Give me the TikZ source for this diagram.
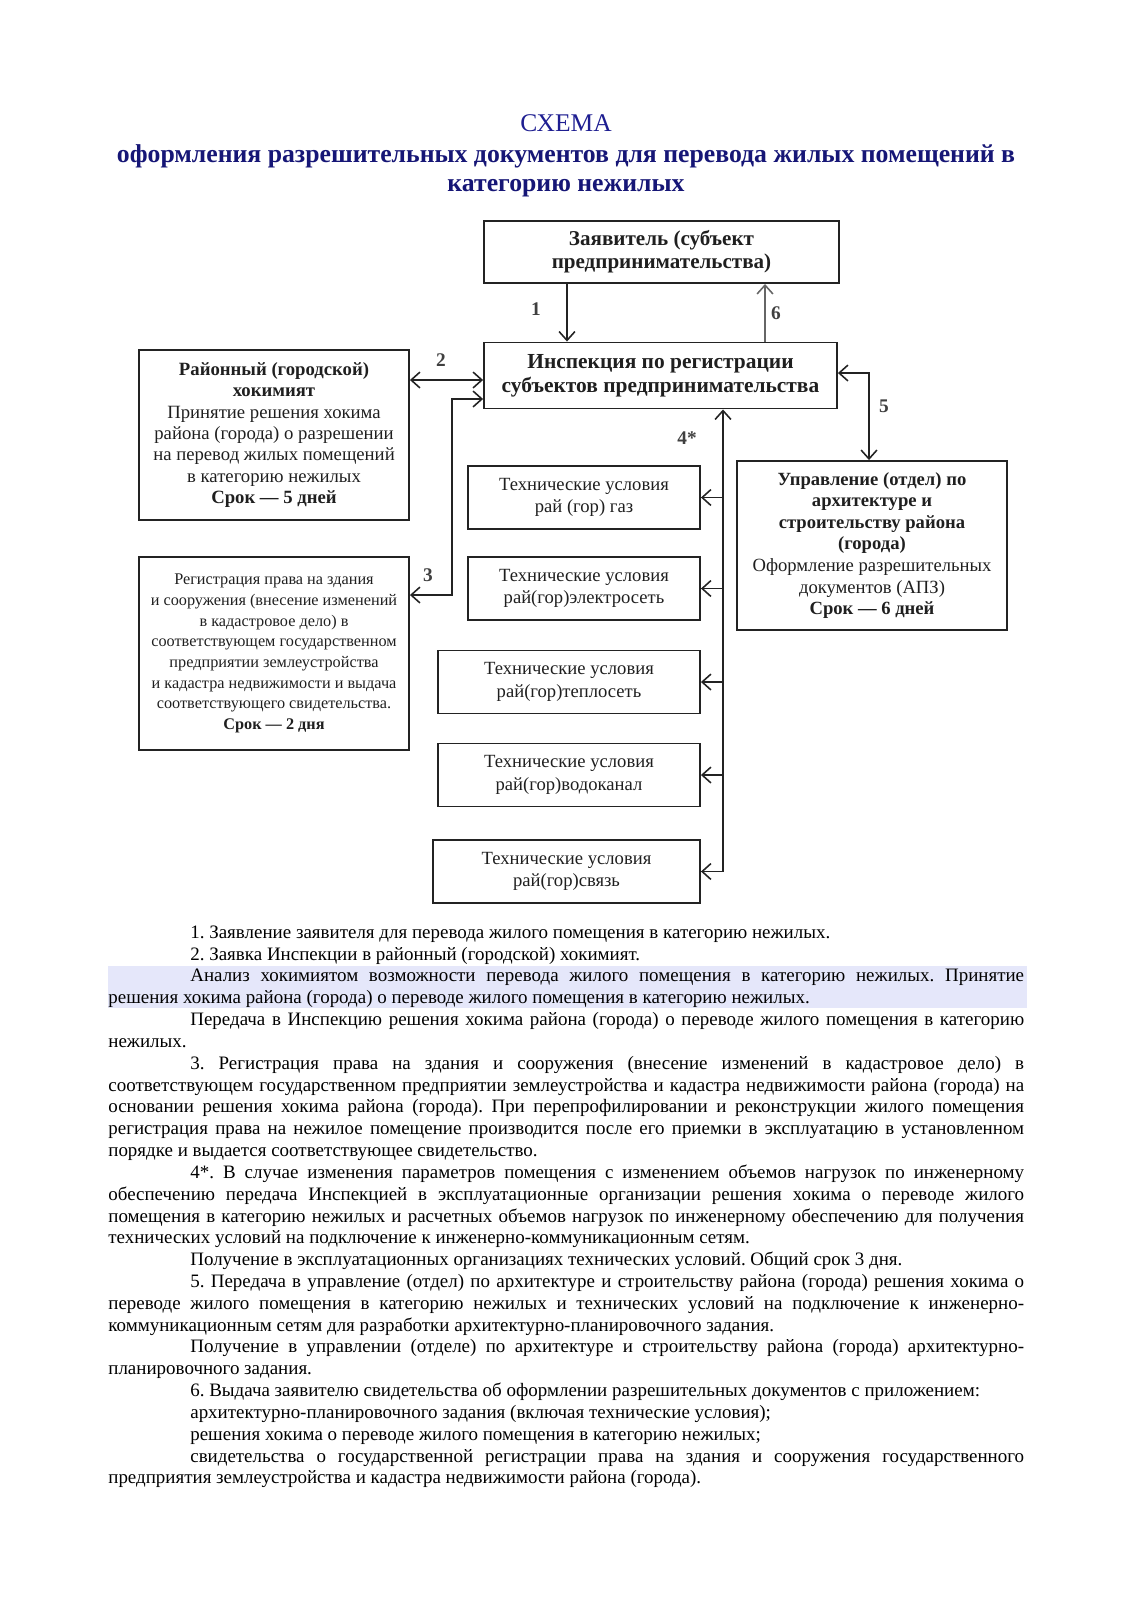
\documentclass[tikz,border=0pt]{standalone}
\usepackage{fontspec}
\setmainfont{Liberation Serif}
\newfontfamily\bodyfont{Liberation Serif}
\usepackage{xcolor}
\definecolor{sinij}{RGB}{22,22,118}
\definecolor{sinijS}{RGB}{30,30,145}
\definecolor{podsvetka}{RGB}{229,231,250}
\definecolor{ramka}{RGB}{35,35,35}
\usetikzlibrary{arrows.meta,positioning,calc}
\newcommand{\abz}{\par\noindent\hspace*{1.64cm}}

\begin{document}
\begin{tikzpicture}[x=0.02cm, y=-0.02cm,
  blok/.style={draw=ramka, line width=1.1pt, align=center, inner sep=2pt, text=black!88},
  strel/.style={-{Straight Barb[length=5pt,width=9pt]}, line width=0.9pt, draw=ramka},
  dvustrel/.style={{Straight Barb[length=5pt,width=9pt]}-{Straight Barb[length=5pt,width=9pt]}, line width=0.9pt, draw=ramka},
  nomer/.style={font=\bfseries\fontsize{11}{12}\selectfont, text=black!75}]
  \useasboundingbox (0,0) rectangle (1132,1600);

  % zagolovok
  \node[anchor=base, text=sinijS, font=\fontsize{14.5}{16}\selectfont] (shema) at (566,131) {СХЕМА};
  \node[anchor=base, align=center, text=sinij, font=\bfseries\fontsize{14.65}{16}\selectfont] (nazvanie) at (566,191)
    {оформления разрешительных документов для перевода жилых помещений в\\категорию нежилых};

  % bloki
  \node[blok, minimum width=7.1cm, minimum height=1.24cm, font=\bfseries\fontsize{12}{13.3}\selectfont]
    (zayavitel) at (661.5,252) {Заявитель (субъект\\предпринимательства)};
  \node[blok, minimum width=7.06cm, minimum height=1.32cm, font=\bfseries\fontsize{12.2}{13.9}\selectfont]
    (inspekciya) at (660.5,375.5) {Инспекция по регистрации\\субъектов предпринимательства};
  \node[blok, minimum width=5.4cm, minimum height=3.4cm, font=\fontsize{10.65}{12.2}\selectfont]
    (hokimiyat) at (274,435) {\textbf{Районный (городской)}\\\textbf{хокимият}\\Принятие решения хокима\\района (города) о разрешении\\на перевод жилых помещений\\в категорию нежилых\\\textbf{Срок — 5 дней}};
  \node[blok, minimum width=5.4cm, minimum height=3.86cm, font=\fontsize{9.25}{11.8}\selectfont]
    (kadastr) at (274,653.5) {Регистрация права на здания\\и сооружения (внесение изменений\\в кадастровое дело) в\\соответствующем государственном\\предприятии землеустройства\\и кадастра недвижимости и выдача\\соответствующего свидетельства.\\\textbf{Срок — 2 дня}};
  \node[blok, minimum width=5.4cm, minimum height=3.38cm, font=\fontsize{10.6}{12.3}\selectfont]
    (upravlenie) at (872,545.5) {\textbf{Управление (отдел) по}\\\textbf{архитектуре и}\\\textbf{строительству района}\\\textbf{(города)}\\Оформление разрешительных\\документов (АПЗ)\\\textbf{Срок — 6 дней}};
  \foreach \i/\cx/\cy/\w/\txt in {
    1/584/497.5/4.64/{рай (гор) газ},
    2/584/588.5/4.64/{рай(гор)электросеть},
    3/569/682/5.24/{рай(гор)теплосеть},
    4/569/775/5.24/{рай(гор)водоканал},
    5/566.5/871.5/5.34/{рай(гор)связь}%
  }{
    \node[blok, minimum width=\w cm, minimum height=1.26cm, font=\fontsize{10.6}{12.8}\selectfont]
      (teh\i) at (\cx,\cy) {Технические условия\\\txt};
  }

  % strelki
  \coordinate (x1) at (567,0);
  \coordinate (x6) at (765,0);
  \coordinate (x3) at (452,0);
  \coordinate (x4) at (723,0);
  \coordinate (x5) at (869,0);
  \coordinate (y2) at (0,380);
  \coordinate (y3) at (0,399);
  \coordinate (y3k) at (0,595);
  \coordinate (y5) at (0,373);
  \draw[strel] (zayavitel.south -| x1) -- (inspekciya.north -| x1);
  \draw[strel, draw=black!60] (inspekciya.north -| x6) -- (zayavitel.south -| x6);
  \draw[dvustrel] (hokimiyat.east |- y2) -- (inspekciya.west |- y2);
  \draw[dvustrel] (kadastr.east |- y3k) -| (x3 |- y3) -- (inspekciya.west |- y3);
  \draw[dvustrel] (inspekciya.east |- y5) -| (upravlenie.north -| x5);
  \draw[strel] (teh5.east -| x4) -- (inspekciya.south -| x4);
  \foreach \i in {1,...,5}
    \draw[strel] (teh\i.east -| x4) -- (teh\i.east);

  \node[nomer] (n1) at (536,309) {1};
  \node[nomer] (n6) at (776,313) {6};
  \node[nomer] (n2) at (441,360) {2};
  \node[nomer] (n3) at (428,575) {3};
  \node[nomer] (n4) at (687,438) {4*};
  \node[nomer] (n5) at (884,406) {5};

  % poyasneniya
  \fill[podsvetka] (108,966) rectangle (1027,1008);
  \node[anchor=base west, inner sep=0pt, text width=18.32cm, align=justify,
    font=\bodyfont\fontsize{10.8}{12.42}\selectfont] (tekst) at (108,916.5) {%
    \hyphenpenalty=10000\tolerance=9999\frenchspacing
    \abz 1. Заявление заявителя для перевода жилого помещения в категорию нежилых.
    \abz 2. Заявка Инспекции в районный (городской) хокимият.
    \abz Анализ хокимиятом возможности перевода жилого помещения в категорию нежилых. Принятие\linebreak
    решения хокима района (города) о переводе жилого помещения в категорию нежилых.
    \abz Передача в Инспекцию решения хокима района (города) о переводе жилого помещения в категорию\linebreak
    нежилых.
    \abz 3. Регистрация права на здания и сооружения (внесение изменений в кадастровое дело) в\linebreak
    соответствующем государственном предприятии землеустройства и кадастра недвижимости района (города) на\linebreak
    основании решения хокима района (города). При перепрофилировании и реконструкции жилого помещения\linebreak
    регистрация права на нежилое помещение производится после его приемки в эксплуатацию в установленном\linebreak
    порядке и выдается соответствующее свидетельство.
    \abz 4*. В случае изменения параметров помещения с изменением объемов нагрузок по инженерному\linebreak
    обеспечению передача Инспекцией в эксплуатационные организации решения хокима о переводе жилого\linebreak
    помещения в категорию нежилых и расчетных объемов нагрузок по инженерному обеспечению для получения\linebreak
    технических условий на подключение к инженерно-коммуникационным сетям.
    \abz Получение в эксплуатационных организациях технических условий. Общий срок 3 дня.
    \abz 5. Передача в управление (отдел) по архитектуре и строительству района (города) решения хокима о\linebreak
    переводе жилого помещения в категорию нежилых и технических условий на подключение к инженерно-\linebreak
    коммуникационным сетям для разработки архитектурно-планировочного задания.
    \abz Получение в управлении (отделе) по архитектуре и строительству района (города) архитектурно-\linebreak
    планировочного задания.
    \abz 6. Выдача заявителю свидетельства об оформлении разрешительных документов с приложением:
    \abz архитектурно-планировочного задания (включая технические условия);
    \abz решения хокима о переводе жилого помещения в категорию нежилых;
    \abz свидетельства о государственной регистрации права на здания и сооружения государственного\linebreak
    предприятия землеустройства и кадастра недвижимости района (города).\par};
\end{tikzpicture}
\end{document}
